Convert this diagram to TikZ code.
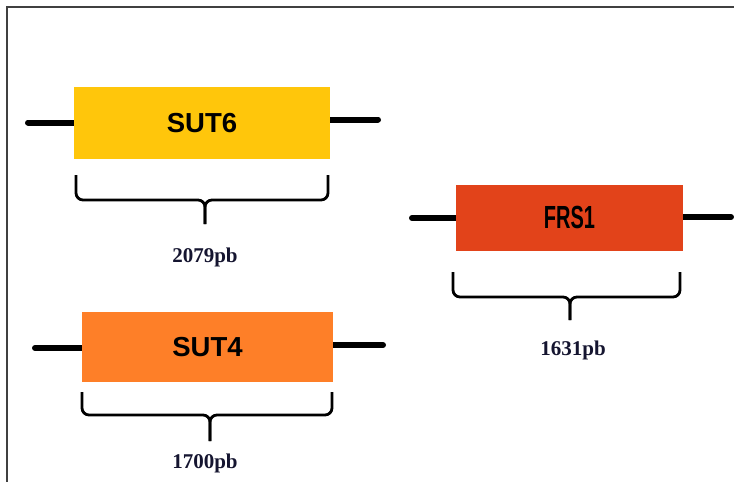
\documentclass[tikz,border=0pt]{standalone}
\usepackage{fontspec}
\setmainfont{Liberation Serif}
\newfontfamily\genefont{Liberation Sans}
\definecolor{sutsix}{HTML}{FFC60B}
\definecolor{frsone}{HTML}{E2431A}
\definecolor{sutfour}{HTML}{FE7F28}
\definecolor{labelink}{HTML}{151530}
\tikzset{
  genebox/.style={draw=none, minimum width=#1, inner sep=0pt, font=\genefont\bfseries\fontsize{27.5}{31}\selectfont},
  geneline/.style={line width=6pt, line cap=round},
  bracket/.style={line width=2.8pt, rounded corners=7pt},
  sizelabel/.style={font=\bfseries\fontsize{21}{25}\selectfont, text=labelink, inner sep=0pt}
}
\begin{document}
\begin{tikzpicture}[x=1pt,y=-1pt]
\useasboundingbox (0,0) rectangle (734,482);
\fill[white] (0,0) rectangle (734,482);
% frame
\draw[line width=1.6pt, black!75] (7,482) -- (7,7) -- (734,7);

% SUT6
\coordinate (s6l) at (28,122.5);
\coordinate (s6r) at (378,119.5);
\draw[geneline] (s6l) -- (74,122.5);
\draw[geneline] (s6r) -- (330,119.5);
\node[genebox=256pt, minimum height=72pt, fill=sutsix] (sut6) at (202,123) {SUT6};
\coordinate (b6l) at (76,175); \coordinate (b6r) at (328,175);
\coordinate (b6t) at (205,224);
\draw[bracket] (b6l) -- (76,200) -- (205,200) -- (b6t);
\draw[bracket] (b6r) -- (328,200) -- (205,200) -- (b6t);
\node[sizelabel] (l6) at (205,257) {2079pb};

% FRS1
\coordinate (f1l) at (412,218);
\coordinate (f1r) at (731,217);
\draw[geneline] (f1l) -- (458,218);
\draw[geneline] (f1r) -- (681,217);
\node[genebox=227pt, minimum height=66pt, fill=frsone, font=\genefont\bfseries\fontsize{25}{30}\selectfont] (frs1) at (569.5,217.5) {\scalebox{0.8}[1.28]{FRS1}};
\coordinate (bfl) at (453,272); \coordinate (bfr) at (680,272);
\coordinate (bft) at (570,320);
\draw[bracket] (bfl) -- (453,297) -- (570,297) -- (bft);
\draw[bracket] (bfr) -- (680,297) -- (570,297) -- (bft);
\node[sizelabel] (lf) at (573,350) {1631pb};

% SUT4
\coordinate (s4l) at (35,348);
\coordinate (s4r) at (383,345);
\draw[geneline] (s4l) -- (84,348);
\draw[geneline] (s4r) -- (331,345);
\node[genebox=251pt, minimum height=70pt, fill=sutfour] (sut4) at (207.5,347) {SUT4};
\coordinate (b4l) at (82,392); \coordinate (b4r) at (332,392);
\coordinate (b4t) at (210,441);
\draw[bracket] (b4l) -- (82,415) -- (210,415) -- (b4t);
\draw[bracket] (b4r) -- (332,415) -- (210,415) -- (b4t);
\node[sizelabel] (l4) at (205,463) {1700pb};
\end{tikzpicture}
\end{document}
